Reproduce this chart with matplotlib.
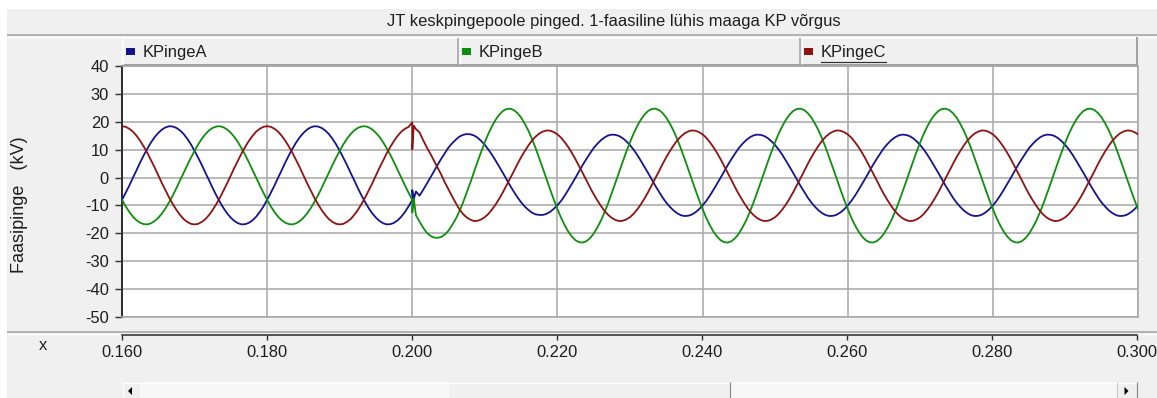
import matplotlib
matplotlib.use("Agg")
import matplotlib.pyplot as plt
from matplotlib.patches import Rectangle, Polygon
from matplotlib.lines import Line2D

# ---------------- data ----------------
title = "JT keskpingepoole pinged. 1-faasiline lühis maaga KP võrgus"
series_names = ["KPingeA", "KPingeB", "KPingeC"]
y_label = "Faasipinge   (kV)"
x_label = "x"
x_ticks = [0.160, 0.180, 0.200, 0.220, 0.240, 0.260, 0.280, 0.300]
x_tick_labels = ["0.160", "0.180", "0.200", "0.220", "0.240", "0.260", "0.280", "0.300"]
y_ticks = [-50, -40, -30, -20, -10, 0, 10, 20, 30, 40]

# sample times (s): 0.5 ms grid before and after the fault, extra samples at the fault instant
t_pre = [round(0.160 + 0.0005 * i, 5) for i in range(80)]
t_fault = [0.2000, 0.2000, 0.2002]
t_post = [round(0.200 + 0.0005 * i, 5) for i in range(1, 201)]
time = t_pre + t_fault + t_post

# phase voltages (kV)
kp_a = [
    # before the fault
    -8.0, -5.5, -2.9, -0.1, 2.6, 5.4, 8.0, 10.4, 12.6, 14.5, 16.0, 17.2, 18.0, 18.4, 18.3, 17.8, 16.9, 15.6, 13.9, 11.9,
    9.6, 7.1, 4.5, 1.7, -1.0, -3.8, -6.4, -8.8, -11.0, -12.9, -14.4, -15.6, -16.4, -16.8, -16.7, -16.2, -15.3, -14.0, -12.3, -10.3,
    -8.0, -5.5, -2.9, -0.1, 2.6, 5.4, 8.0, 10.4, 12.6, 14.5, 16.0, 17.2, 18.0, 18.4, 18.3, 17.8, 16.9, 15.6, 13.9, 11.9,
    9.6, 7.1, 4.5, 1.7, -1.0, -3.8, -6.4, -8.8, -11.0, -12.9, -14.4, -15.6, -16.4, -16.8, -16.7, -16.2, -15.3, -14.0, -12.3, -10.3,
    # fault instant
    -8.0, -4.5, -7.8,
    # after the fault
    -5.0, -6.5, -4.4, -2.2, 0.0, 2.3, 4.6, 6.8, 8.8, 10.8, 12.3, 13.6, 14.7, 15.3, 15.6, 15.5, 15.1, 14.3, 13.1, 11.7,
    10.0, 8.1, 6.0, 3.8, 1.6, -0.7, -3.0, -5.1, -7.1, -8.9, -10.4, -11.6, -12.6, -13.2, -13.4, -13.4, -13.0, -12.3, -11.2, -9.9,
    -8.4, -6.5, -4.4, -2.2, 0.0, 2.3, 4.6, 6.7, 8.7, 10.6, 12.1, 13.4, 14.4, 15.1, 15.4, 15.3, 14.9, 14.1, 13.0, 11.6,
    10.0, 8.1, 6.0, 3.8, 1.6, -0.7, -3.0, -5.1, -7.2, -9.0, -10.5, -11.8, -12.8, -13.5, -13.8, -13.7, -13.3, -12.5, -11.4, -10.0,
    -8.4, -6.5, -4.4, -2.2, 0.0, 2.3, 4.6, 6.7, 8.7, 10.6, 12.1, 13.4, 14.4, 15.1, 15.4, 15.3, 14.9, 14.1, 13.0, 11.6,
    10.0, 8.1, 6.0, 3.8, 1.6, -0.7, -3.0, -5.1, -7.2, -9.0, -10.5, -11.8, -12.8, -13.5, -13.8, -13.7, -13.3, -12.5, -11.4, -10.0,
    -8.4, -6.5, -4.4, -2.2, 0.0, 2.3, 4.6, 6.7, 8.7, 10.6, 12.1, 13.4, 14.4, 15.1, 15.4, 15.3, 14.9, 14.1, 13.0, 11.6,
    10.0, 8.1, 6.0, 3.8, 1.6, -0.7, -3.0, -5.1, -7.2, -9.0, -10.5, -11.8, -12.8, -13.5, -13.8, -13.7, -13.3, -12.5, -11.4, -10.0,
    -8.4, -6.5, -4.4, -2.2, 0.0, 2.3, 4.6, 6.7, 8.7, 10.6, 12.1, 13.4, 14.4, 15.1, 15.4, 15.3, 14.9, 14.1, 13.0, 11.6,
    10.0, 8.1, 6.0, 3.8, 1.6, -0.7, -3.0, -5.1, -7.2, -9.0, -10.5, -11.8, -12.8, -13.5, -13.8, -13.7, -13.3, -12.5, -11.4, -10.0,
]
kp_b = [
    -8.0, -10.3, -12.3, -14.0, -15.3, -16.2, -16.7, -16.8, -16.4, -15.6, -14.4, -12.9, -11.0, -8.8, -6.4, -3.8, -1.0, 1.7, 4.5, 7.1,
    9.6, 11.9, 13.9, 15.6, 16.9, 17.8, 18.3, 18.4, 18.0, 17.2, 16.0, 14.5, 12.6, 10.4, 8.0, 5.4, 2.6, -0.1, -2.9, -5.5,
    -8.0, -10.3, -12.3, -14.0, -15.3, -16.2, -16.7, -16.8, -16.4, -15.6, -14.4, -12.9, -11.0, -8.8, -6.4, -3.8, -1.0, 1.7, 4.5, 7.1,
    9.6, 11.9, 13.9, 15.6, 16.9, 17.8, 18.3, 18.4, 18.0, 17.2, 16.0, 14.5, 12.6, 10.4, 8.0, 5.4, 2.6, -0.1, -2.9, -5.5,
    -8.0, -12.5, -7.5,
    -13.5, -15.8, -18.0, -19.8, -20.9, -21.5, -21.6, -21.3, -20.4, -19.0, -17.0, -14.8, -12.0, -8.9, -5.4, -1.8, 2.0, 5.7, 9.3, 12.7,
    15.8, 18.5, 20.8, 22.6, 23.9, 24.6, 24.7, 24.2, 23.1, 21.5, 19.3, 16.8, 13.8, 10.5, 6.9, 3.2, -0.6, -4.3, -7.9, -11.3,
    -14.4, -17.1, -19.4, -21.2, -22.5, -23.2, -23.3, -22.8, -21.7, -20.1, -17.9, -15.4, -12.4, -9.1, -5.5, -1.8, 2.0, 5.7, 9.3, 12.7,
    15.8, 18.5, 20.8, 22.6, 23.9, 24.6, 24.7, 24.2, 23.1, 21.5, 19.3, 16.8, 13.8, 10.5, 6.9, 3.2, -0.6, -4.3, -7.9, -11.3,
    -14.4, -17.1, -19.4, -21.2, -22.5, -23.2, -23.3, -22.8, -21.7, -20.1, -17.9, -15.4, -12.4, -9.1, -5.5, -1.8, 2.0, 5.7, 9.3, 12.7,
    15.8, 18.5, 20.8, 22.6, 23.9, 24.6, 24.7, 24.2, 23.1, 21.5, 19.3, 16.8, 13.8, 10.5, 6.9, 3.2, -0.6, -4.3, -7.9, -11.3,
    -14.4, -17.1, -19.4, -21.2, -22.5, -23.2, -23.3, -22.8, -21.7, -20.1, -17.9, -15.4, -12.4, -9.1, -5.5, -1.8, 2.0, 5.7, 9.3, 12.7,
    15.8, 18.5, 20.8, 22.6, 23.9, 24.6, 24.7, 24.2, 23.1, 21.5, 19.3, 16.8, 13.8, 10.5, 6.9, 3.2, -0.6, -4.3, -7.9, -11.3,
    -14.4, -17.1, -19.4, -21.2, -22.5, -23.2, -23.3, -22.8, -21.7, -20.1, -17.9, -15.4, -12.4, -9.1, -5.5, -1.8, 2.0, 5.7, 9.3, 12.7,
    15.8, 18.5, 20.8, 22.6, 23.9, 24.6, 24.7, 24.2, 23.1, 21.5, 19.3, 16.8, 13.8, 10.5, 6.9, 3.2, -0.6, -4.3, -7.9, -11.3,
]
kp_c = [
    18.4, 18.2, 17.5, 16.5, 15.0, 13.2, 11.1, 8.8, 6.2, 3.6, 0.8, -2.0, -4.6, -7.2, -9.5, -11.6, -13.4, -14.9, -15.9, -16.6,
    -16.8, -16.6, -15.9, -14.9, -13.4, -11.6, -9.5, -7.2, -4.6, -2.0, 0.8, 3.6, 6.2, 8.8, 11.1, 13.2, 15.0, 16.5, 17.5, 18.2,
    18.4, 18.2, 17.5, 16.5, 15.0, 13.2, 11.1, 8.8, 6.2, 3.6, 0.8, -2.0, -4.6, -7.2, -9.5, -11.6, -13.4, -14.9, -15.9, -16.6,
    -16.8, -16.6, -15.9, -14.9, -13.4, -11.6, -9.5, -7.2, -4.6, -2.0, 0.8, 3.6, 6.2, 8.8, 11.1, 13.2, 15.0, 16.5, 17.5, 18.2,
    19.8, 10.1, 18.6,
    17.4, 16.2, 13.4, 10.8, 8.5, 6.0, 3.5, 1.0, -1.8, -4.3, -6.8, -9.2, -11.4, -13.1, -14.3, -15.1, -15.6, -15.5, -15.0, -14.2,
    -13.0, -11.4, -9.6, -7.5, -5.2, -2.7, -0.2, 2.3, 4.9, 7.3, 9.5, 11.5, 13.3, 14.7, 15.8, 16.5, 16.9, 16.8, 16.3, 15.5,
    14.3, 12.7, 10.9, 8.8, 6.5, 4.0, 1.5, -1.0, -3.6, -6.0, -8.2, -10.2, -12.0, -13.4, -14.5, -15.2, -15.6, -15.5, -15.0, -14.2,
    -13.0, -11.4, -9.6, -7.5, -5.2, -2.7, -0.2, 2.3, 4.9, 7.3, 9.5, 11.5, 13.3, 14.7, 15.8, 16.5, 16.9, 16.8, 16.3, 15.5,
    14.3, 12.7, 10.9, 8.8, 6.5, 4.0, 1.5, -1.0, -3.6, -6.0, -8.2, -10.2, -12.0, -13.4, -14.5, -15.2, -15.6, -15.5, -15.0, -14.2,
    -13.0, -11.4, -9.6, -7.5, -5.2, -2.7, -0.2, 2.3, 4.9, 7.3, 9.5, 11.5, 13.3, 14.7, 15.8, 16.5, 16.9, 16.8, 16.3, 15.5,
    14.3, 12.7, 10.9, 8.8, 6.5, 4.0, 1.5, -1.0, -3.6, -6.0, -8.2, -10.2, -12.0, -13.4, -14.5, -15.2, -15.6, -15.5, -15.0, -14.2,
    -13.0, -11.4, -9.6, -7.5, -5.2, -2.7, -0.2, 2.3, 4.9, 7.3, 9.5, 11.5, 13.3, 14.7, 15.8, 16.5, 16.9, 16.8, 16.3, 15.5,
    14.3, 12.7, 10.9, 8.8, 6.5, 4.0, 1.5, -1.0, -3.6, -6.0, -8.2, -10.2, -12.0, -13.4, -14.5, -15.2, -15.6, -15.5, -15.0, -14.2,
    -13.0, -11.4, -9.6, -7.5, -5.2, -2.7, -0.2, 2.3, 4.9, 7.3, 9.5, 11.5, 13.3, 14.7, 15.8, 16.5, 16.9, 16.8, 16.3, 15.5,
]

# ---------------- style ----------------
W, H = 1157, 398
plt.rcParams["font.family"] = ["Liberation Sans", "DejaVu Sans"]
TXT = "#1e1e1e"
PANEL = "#f0f0f0"
EDGE = "#a0a0a0"
colors = ["#14148e", "#0e8e0e", "#8e1212"]
FS = 11.9
PX = 72.0 / 100.0  # points per pixel


def fx(x):
    return x / W


def fy(y):
    return 1.0 - y / H


fig = plt.figure(figsize=(W / 100, H / 100), dpi=100)
fig.patch.set_facecolor("white")


def rect(x0, y0, x1, y1, color, z=-5):
    fig.add_artist(Rectangle((fx(x0), fy(y1)), fx(x1) - fx(x0), fy(y0) - fy(y1),
                             transform=fig.transFigure, facecolor=color,
                             edgecolor="none", zorder=z))


def hline(x0, x1, y, color, w=1.0, z=-4):
    fig.add_artist(Line2D([fx(x0), fx(x1)], [fy(y), fy(y)], color=color,
                          lw=w * PX, transform=fig.transFigure, zorder=z,
                          solid_capstyle="butt"))


def vline(x, y0, y1, color, w=1.0, z=-4):
    fig.add_artist(Line2D([fx(x), fx(x)], [fy(y0), fy(y1)], color=color,
                          lw=w * PX, transform=fig.transFigure, zorder=z,
                          solid_capstyle="butt"))


# window panel
rect(7, 9, W, H, PANEL, z=-10)
# title bar separator
hline(7, W, 35, EDGE, 1.5)
hline(7, W, 36.8, "white", 1.2)
fig.text(fx(614), fy(21.5), title, ha="center", va="center", fontsize=FS, color=TXT)

# legend row
rect(122, 37, 1137, 65, PANEL, z=-6)
hline(122, 1137, 38, "white", 1.5)
hline(122, 1137, 64.5, EDGE, 2.0)
vline(122.5, 37, 65, "white", 1.5)
vline(1136.5, 37, 65, EDGE, 2.0)
cells = [122, 458, 800]
for sep in cells[1:]:
    vline(sep, 38, 64, EDGE, 1.5)
    vline(sep + 1.5, 38, 64, "white", 1.2)
legend_texts = []
for x0, name, col in zip(cells, series_names, colors):
    rect(x0 + 4, 48, x0 + 13, 55, col, z=-3)
    t = fig.text(fx(x0 + 21), fy(52), name, ha="left", va="center",
                 fontsize=FS, color=TXT)
    legend_texts.append(t)

# separator above x axis
hline(7, W, 332, EDGE, 1.5)
hline(7, W, 333.6, "white", 1.2)

# scrollbar
rect(122, 382, 1137, H, "#f7f7f7", z=-6)
rect(122, 382, 140, H, PANEL, z=-5)
rect(1117, 382, 1137, H, PANEL, z=-5)
rect(449, 382, 730, H, PANEL, z=-5)
hline(122, 1137, 382.5, "white", 1.2)
vline(122.5, 382, H, "white", 1.2)
vline(730, 382, H, "#8a8a8a", 1.2)
vline(1117, 382, H, "#c8c8c8", 1.0)
vline(1137, 382, H, "#8a8a8a", 1.2)
fig.add_artist(Polygon([[fx(128), fy(391)], [fx(132), fy(387)], [fx(132), fy(395)]],
                       closed=True, transform=fig.transFigure, facecolor="black",
                       edgecolor="none", zorder=-3))
fig.add_artist(Polygon([[fx(1128.5), fy(391)], [fx(1124.5), fy(387)], [fx(1124.5), fy(395)]],
                       closed=True, transform=fig.transFigure, facecolor="black",
                       edgecolor="none", zorder=-3))

# ---------------- main plot ----------------
ax = fig.add_axes([fx(122), fy(317), fx(1138) - fx(122), fy(66) - fy(317)])
ax.set_facecolor("white")
ax.set_xlim(x_ticks[0], x_ticks[-1])
ax.set_ylim(y_ticks[0], y_ticks[-1])
ax.set_xticks(x_ticks)
ax.set_yticks(y_ticks)
ax.set_yticklabels([str(v) for v in y_ticks])
ax.tick_params(axis="x", length=0, labelbottom=False)
ax.tick_params(axis="y", direction="out", length=7 * PX, width=1.4 * PX,
               color="#303030", labelsize=FS, labelcolor=TXT, pad=6 * PX)
ax.grid(True, color="#ababab", lw=1.6 * PX)
ax.set_axisbelow(True)
for side in ["top", "right", "bottom"]:
    ax.spines[side].set_color("#a8a8a8")
    ax.spines[side].set_linewidth(1.6 * PX)
ax.spines["left"].set_color("#303030")
ax.spines["left"].set_linewidth(2.0 * PX)

for vals, col in zip([kp_a, kp_b, kp_c], colors):
    ax.plot(time, vals, color=col, lw=1.8 * PX, zorder=3, solid_joinstyle="round")

fig.text(fx(20), fy(205), y_label, rotation=90, ha="center", va="center",
         fontsize=13.0, color=TXT)

# ---------------- separate x axis strip ----------------
axx = fig.add_axes([fx(122), fy(335), fx(1137) - fx(122), 0.0005])
axx.set_facecolor("none")
axx.set_xlim(x_ticks[0], x_ticks[-1])
axx.set_xticks(x_ticks)
axx.set_xticklabels(x_tick_labels)
axx.set_yticks([])
for side in ["top", "left", "right"]:
    axx.spines[side].set_visible(False)
axx.spines["bottom"].set_color("#303030")
axx.spines["bottom"].set_linewidth(1.6 * PX)
axx.tick_params(axis="x", direction="out", length=5 * PX, width=1.4 * PX,
                color="#303030", labelsize=FS, labelcolor=TXT, pad=5 * PX)
fig.text(fx(43), fy(346), x_label, ha="center", va="center", fontsize=FS, color=TXT)

# underline of the active legend entry
fig.canvas.draw()
r = fig.canvas.get_renderer()
bb = legend_texts[2].get_window_extent(r)
fig.add_artist(Line2D([bb.x0 / W, bb.x1 / W], [fy(61.5), fy(61.5)], color="#303030",
                      lw=1.2 * PX, transform=fig.transFigure, zorder=-2))

fig.savefig("out.png", dpi=100, facecolor=fig.get_facecolor())
